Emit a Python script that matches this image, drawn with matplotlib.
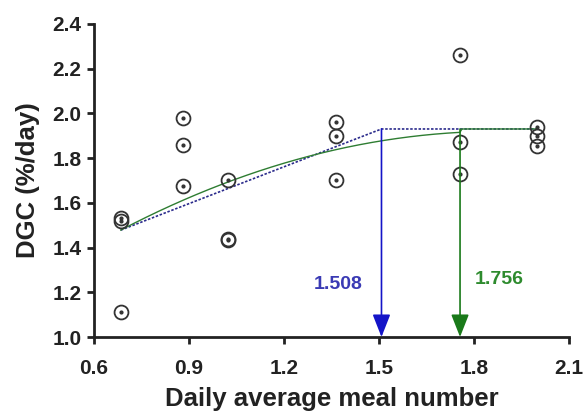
import numpy as np
import matplotlib.pyplot as plt

plt.rcParams['font.family'] = ['Liberation Sans', 'DejaVu Sans']
plt.rcParams['font.weight'] = 'bold'

# data points (daily meal number vs DGC)
meal_x = [0.685, 0.685, 0.685, 0.88, 0.88, 0.88, 1.025, 1.025, 1.025,
          1.365, 1.365, 1.365, 1.755, 1.755, 1.755, 2.0, 2.0, 2.0]
dgc_y = [1.53, 1.52, 1.11, 1.98, 1.86, 1.675, 1.70, 1.44, 1.435,
         1.96, 1.90, 1.70, 2.26, 1.87, 1.73, 1.94, 1.90, 1.855]

# fitted models
plateau = 1.93
bp_linear = 1.508
bp_quad = 1.756
x_start = 0.685
lin_y0 = 1.478
# quadratic part: y = q0 + q1*(x - x_start) + q2*(x - x_start)^2
q0, q1, q2 = 1.478, 0.74, -0.31
x_end = 2.0

fig = plt.figure(figsize=(5.83, 4.11), dpi=100)
ax = fig.add_axes([0.161, 0.180, 0.815, 0.762])

# broken-line (linear plateau) model
xl = np.array([x_start, bp_linear, x_end])
yl = np.array([lin_y0, plateau, plateau])
ax.plot(xl, yl, color='#2b2b8c', lw=1.2, ls=(0, (1.5, 1)))

# quadratic plateau model
xq = np.linspace(x_start, x_end, 200)
yq = q0 + q1 * (xq - x_start) + q2 * (xq - x_start) ** 2
yq = np.where(xq < bp_quad, np.minimum(yq, plateau), plateau)
ax.plot(xq, yq, color='#2e7d32', lw=1.0)

# points: open circle with centre dot
ax.plot(meal_x, dgc_y, ls='none', marker='o', ms=10, mfc='none', mec='#333333', mew=1.3)
ax.plot(meal_x, dgc_y, ls='none', marker='o', ms=2, color='#333333')

# arrows to the breakpoints
ax.annotate('', xy=(bp_linear, 1.0), xytext=(bp_linear, plateau),
            arrowprops=dict(arrowstyle='-|>,head_width=0.55,head_length=1.4',
                            color='#1414c8', lw=1.2, shrinkA=0, shrinkB=0))
ax.annotate('', xy=(bp_quad, 1.0), xytext=(bp_quad, plateau),
            arrowprops=dict(arrowstyle='-|>,head_width=0.55,head_length=1.4',
                            color='#1a7a1a', lw=1.2, shrinkA=0, shrinkB=0))
ax.text(1.37, 1.235, '1.508', color='#3a3ab4', fontsize=14, fontweight='bold',
        ha='center', va='center')
ax.text(1.88, 1.255, '1.756', color='#2e8b2e', fontsize=14, fontweight='bold',
        ha='center', va='center')

ax.set_xlim(0.6, 2.1)
ax.set_ylim(1.0, 2.4)
ax.set_xticks([0.6, 0.9, 1.2, 1.5, 1.8, 2.1])
ax.set_yticks([1.0, 1.2, 1.4, 1.6, 1.8, 2.0, 2.2, 2.4])
ax.set_xticklabels(['0.6', '0.9', '1.2', '1.5', '1.8', '2.1'])
ax.set_yticklabels(['1.0', '1.2', '1.4', '1.6', '1.8', '2.0', '2.2', '2.4'])

for s in ['top', 'right']:
    ax.spines[s].set_visible(False)
for s in ['left', 'bottom']:
    ax.spines[s].set_linewidth(2)
    ax.spines[s].set_color('#222222')
ax.tick_params(width=2, length=5, labelsize=15, colors='#222222', direction='out')
ax.tick_params(axis='x', pad=11)
ax.tick_params(axis='y', pad=4)
for lab in ax.get_xticklabels() + ax.get_yticklabels():
    lab.set_fontweight('bold')

ax.set_xlabel('Daily average meal number', fontsize=18.5, fontweight='bold', color='#222222', labelpad=6)
ax.set_ylabel('DGC (%/day)', fontsize=18.5, fontweight='bold', color='#222222', labelpad=9)

fig.savefig('out.png', dpi=100)
